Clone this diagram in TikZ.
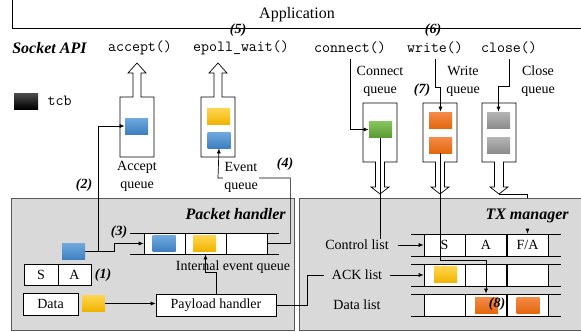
\documentclass[tikz,border=0pt]{standalone}
\usepackage{fontspec}
\setmainfont{Liberation Serif}
\usetikzlibrary{positioning,calc,arrows.meta}

\definecolor{boxgray}{HTML}{D9D9D9}
\definecolor{boxline}{HTML}{595959}
\definecolor{blueA}{HTML}{6FA9DE}
\definecolor{blueB}{HTML}{3E7FC1}
\definecolor{yelA}{HTML}{FFD54F}
\definecolor{yelB}{HTML}{F0B400}
\definecolor{oraA}{HTML}{F58A4B}
\definecolor{oraB}{HTML}{E2680C}
\definecolor{grnA}{HTML}{86C45C}
\definecolor{grnB}{HTML}{5A9A32}
\definecolor{gryA}{HTML}{B5B5B5}
\definecolor{gryB}{HTML}{8C8C8C}

\begin{document}
\begin{tikzpicture}[
        x=1pt, y=-1pt,
        line width=0.7pt,
        arr/.style={-{Latex[length=5pt,width=4pt]}},
        lbl/.style={font=\fontsize{14}{18}\selectfont, inner sep=1pt, align=center},
        head/.style={font=\fontsize{16}{18}\selectfont\bfseries\itshape, inner sep=1pt},
        num/.style={font=\fontsize{14}{16}\selectfont\bfseries\itshape, inner sep=0pt},
        api/.style={font=\fontsize{15.5}{17}\selectfont\ttfamily, inner sep=1pt},
        cell/.style={draw, fill=white, minimum width=41pt, minimum height=22pt, inner sep=0pt,
            font=\fontsize{14}{16}\selectfont},
        blockbox/.style={draw=boxline, fill=boxgray, line width=1pt},
        qbox/.style={draw, fill=white},
        tcbsq/.style={minimum width=23pt, minimum height=16pt, inner sep=0pt},
        blueq/.style={tcbsq, top color=blueA, bottom color=blueB},
        yellowq/.style={tcbsq, top color=yelA, bottom color=yelB},
        orangeq/.style={tcbsq, top color=oraA, bottom color=oraB},
        greenq/.style={tcbsq, top color=grnA, bottom color=grnB},
        grayq/.style={tcbsq, top color=gryA, bottom color=gryB}
    ]

    \useasboundingbox (0,0) rectangle (581,332);
    \clip (0,0) rectangle (581,332);

    % Application and socket API
    \draw (12,-2) -- (12,28) -- (585,28);
    \node[font=\fontsize{16}{18}\selectfont] (app) at (297,15) {Application};
    \node[num] at (238,30) {(5)};
    \node[num] at (433,30) {(6)};

    \node[head, anchor=west] (sockapi) at (11,48) {Socket API};
    \node[api] (apiaccept) at (140,48) {accept()};
    \node[api] (apiepoll) at (241,48) {epoll\_wait()};
    \node[api] (apiconnect) at (350,48) {connect()};
    \node[api] (apiwrite) at (435,48) {write()};
    \node[api] (apiclose) at (509,48) {close()};

    % legend
    \node[tcbsq, minimum width=24pt, top color=black!70, bottom color=black] (legsq) at (26,101) {};
    \node[api, right=8pt of legsq] (legtxt) {tcb};

    % Blocks
    \filldraw[blockbox] (11,198) rectangle (294,330);
    \filldraw[blockbox] (299,198) rectangle (590,330);
    \node[head, anchor=east] (pkth) at (287,214) {Packet handler};
    \node[head, anchor=east] (txm) at (570,216) {TX manager};

    % Queues going up to the application
    \foreach \cx in {137,218}
        \draw[qbox] (\cx-17,157) -- (\cx-17,97) -- (\cx-4,97) -- (\cx-4,73) -- (\cx-9,73) -- (\cx,63)
            -- (\cx+9,73) -- (\cx+4,73) -- (\cx+4,97) -- (\cx+17,97) -- (\cx+17,157) -- cycle;

    % Queues going down to the TX manager
    \foreach \cx/\nm in {380/conq,440/wrq,499/clq}
    {
        \draw[qbox] (\cx-17,103) -- (\cx-17,162) -- (\cx-4.5,162) -- (\cx-4.5,187) -- (\cx-9,187) -- (\cx,194)
            -- (\cx+9,187) -- (\cx+4.5,187) -- (\cx+4.5,162) -- (\cx+17,162) -- (\cx+17,103) -- cycle;
        \coordinate (\nm tip) at (\cx,194);
    }

    \node[blueq] (acc) at (136.5,126) {};
    \node[yellowq] (ev1) at (218.5,116.5) {};
    \node[blueq] (ev2) at (219,140) {};
    \node[lbl] (accl) at (137,176) {Accept\\queue};

    \node[greenq] (con) at (380.5,129.5) {};
    \node[orangeq] (wr1) at (440.5,120) {};
    \node[orangeq] (wr2) at (440.5,145) {};
    \node[grayq] (cl1) at (498.5,120) {};
    \node[grayq] (cl2) at (498.5,145) {};
    \node[lbl] (conl) at (380,81) {Connect\\queue};
    \node[lbl] (wrl) at (463,81) {Write\\queue};
    \node[lbl] (cll) at (538,81) {Close\\queue};
    \node[num] at (422,90) {(7)};

    % Packet handler
    \draw (130,233) -- (279,233);
    \draw (130,254) -- (279,254);
    \foreach \i/\cx in {1/164.5,2/205.5,3/246.5}
        \node[cell, minimum height=21pt] (iq\i) at (\cx,243.5) {};
    \node[blueq] (iqb) at (164,243.5) {};
    \node[yellowq] (iqy) at (204.5,243.5) {};
    \node[lbl] (iql) at (233,267) {Internal event queue};

    \node[blueq] (pkt) at (73.5,251.5) {};
    \node[cell, minimum width=34pt, minimum height=21pt] (sa1) at (41,274.5) {S};
    \node[cell, minimum width=33pt, minimum height=21pt] (sa2) at (74.5,274.5) {A};
    \node[cell, minimum width=55pt] (data) at (50.5,304) {Data};
    \node[yellowq] (yel) at (93.5,303.5) {};
    \node[cell, minimum width=120pt] (pay) at (216,305) {Payload handler};

    \node[num] at (103,275) {(1)};
    \node[num] at (84,185) {(2)};
    \node[num] at (119,232) {(3)};
    \node[num] at (285,164) {(4)};

    % TX manager lists
    \foreach \ya in {234,256,264,286,294,316}
        \draw (411,\ya) -- (561,\ya);
    \foreach \r/\cy in {ctlc/245,ackc/275,datc/305}
        \foreach \i/\cx in {1/444.5,2/486,3/527.5}
            \node[cell] (\r\i) at (\cx,\cy) {};
    \node[lbl] at (ctlc1) {S};
    \node[lbl] at (ctlc2) {A};
    \node[lbl] at (ctlc3) {F/A};
    \node[yellowq] (acky) at (445.5,274.5) {};
    \node[orangeq] (dato1) at (486.5,305) {};
    \node[orangeq] (dato2) at (528,305) {};
    \node[num] at (497,304) {(8)};

    \node[lbl] (ctl) at (357,245) {Control list};
    \node[lbl] (ack) at (357,275) {ACK list};
    \node[lbl] (datl) at (357,305) {Data list};
    \draw[arr] ([xshift=8pt]ctl.east) -- (ctlc1.west);
    \draw[arr] ([xshift=7pt]ack.east) -- (ackc1.west);

    % Connectors in the packet handler
    \draw[arr] (pkt.east) -- ++(13,0) |- (acc.west);
    \draw[arr] (pkt.east) -- ++(29,0) |- (iq1.west);
    \draw[arr] (iq3.east) -- ++(23,0) |- (218,178) -- (ev2.south);
    \node[lbl, fill=white] (evl) at (241,177) {Event\\queue};
    \draw[arr] (yel.east) -- (yel.east -| pay.west);
    \draw[arr] (pay.north) -- ++(0,-21) -| (iq2.south);
    \draw (pay.east) -- ++(31,0) |- ([xshift=-7pt]ack.west);

    % Connectors from the socket API
    \draw[arr] ([yshift=-4pt]apiconnect.south) |- (con.west);
    \draw[arr] ([yshift=-4pt]apiwrite.south) |- ($(wr1.north)+(0,-24)$) -- (wr1.north);
    \draw[arr] ([yshift=-4pt]apiclose.south) |- ($(cl1.north)+(0,-25)$) -- (cl1.north);
    \draw (con.south) -- (con.south |- ctl.north);
    \draw[arr] (wr2.south) -- ++(0,107) -| (datc2.north);
    \draw (clqtip) -| ($(ctlc3.north)+(0,-36)$);
    \draw[arr] ($(ctlc3.north)+(0,-5)$) -- (ctlc3.north);

\end{tikzpicture}
\end{document}
